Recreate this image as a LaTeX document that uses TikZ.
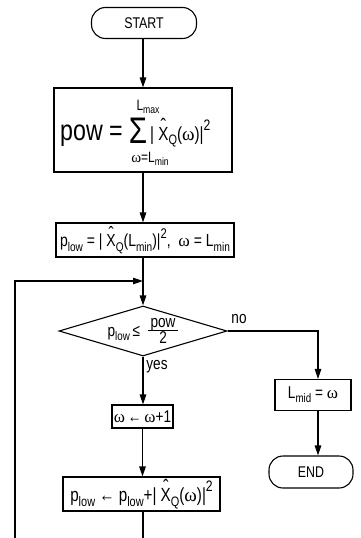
\documentclass[tikz,border=0pt]{standalone}
\usepackage{fontspec}
\usepackage{graphicx}
\setmainfont[FakeStretch=0.8]{Liberation Sans}
\newfontfamily\omfont{Liberation Serif}
\usetikzlibrary{arrows.meta,shapes.geometric}

% omega in a serif face, sub/superscripts, X with a hat
\newcommand\om{{\omfont ω}}
\newcommand\sbs[1]{\raisebox{-0.45ex}{\scalebox{0.72}{#1}}}
\newcommand\sps[1]{\raisebox{0.95ex}{\scalebox{0.8}{#1}}}
\newcommand\Xh{\begingroup\setbox0\hbox{X}\hbox to\wd0{\hss\raisebox{0.36em}{\scalebox{1.1}{ˆ}}\hss}\kern-\wd0\box0\endgroup}
\newcommand\fs[1]{\fontsize{#1}{#1}\selectfont}

\tikzset{
  every node/.style={font=\fs{17}, inner sep=0pt},
  box/.style={draw, rectangle, line width=1.1pt},
  term/.style={draw, rectangle, rounded corners=14pt, line width=1.1pt},
  dec/.style={draw, diamond, line width=1.1pt},
  arr/.style={-{Triangle[length=10pt,width=6.5pt]}},
  flow/.style={line width=1.1pt}
}

\begin{document}
\begin{tikzpicture}[x=1pt,y=-1pt]
\useasboundingbox (0,0) rectangle (361,538);

% start
\node[term, minimum width=105pt, minimum height=31pt, font=\fs{15.5}] (start) at (144,23) {START};

% total power
\node[box, minimum width=178pt, minimum height=84pt] (pow) at (143,130) {};
\node[anchor=base east, font=\fs{29}] (powlhs) at (123,140) {pow =};
\node[anchor=base, font=\fs{37}] (sigma) at (138,143) {Σ};
\node[font=\fs{15}] (sumtop) at (148,107) {L\sbs{max}};
\node[font=\fs{15}] (sumbot) at (150,159) {\om=L\sbs{min}};
\node[anchor=base west, font=\fs{19}] (powrhs) at (150,140) {| \Xh\sbs{Q}(\om)|\sps{2}};

% initialisation
\node[box, minimum width=178pt, minimum height=34pt] (init) at (145,240)
  {\fs{17.5}p\sbs{low} = | \Xh\sbs{Q}(L\sbs{min})|\sps{2},\ \ \om\ = L\sbs{min}};
\coordinate (merge) at (143,281);

% decision
\node[dec, minimum width=168pt, minimum height=50pt] (test) at (143,331) {};
\node (testtxt) at (143,332)
  {p\sbs{low}\,≤\ \ \begin{tabular}{@{}c@{}}\,pow\,\\[-3pt]\hline\rule{0pt}{13pt}2\end{tabular}};
\node (no) at (239,319) {no};
\node (yes) at (157,367) {yes};

% result branch
\node[box, minimum width=76pt, minimum height=31pt] (lmid) at (313,395) {L\sbs{mid} = \om};
\node[term, minimum width=84pt, minimum height=32pt, font=\fs{15.5}] (end) at (311,472) {END};

% loop body
\node[box, minimum width=61pt, minimum height=23pt, font=\fs{17}] (inc) at (142.5,416.5) {\om\,←\,\om+1};
\node[box, minimum width=157pt, minimum height=34pt, font=\fs{19}] (acc) at (141.5,494)
  {p\sbs{low} ← p\sbs{low}+| \Xh\sbs{Q}(\om)|\sps{2}};

\coordinate (loopbot) at (15,538);
\coordinate (accbot) at (143,538);

% connectors
\draw[flow,arr] (start.south -| pow.north) -- (pow.north);
\draw[flow,arr] (pow.south) -- (pow.south |- init.north);
\draw[flow,arr] (init.south -| merge) -- (test.north);
\draw[flow,arr] (loopbot) |- (merge);
\draw[flow,arr] (test.east) -| ([xshift=5pt]lmid.north);
\draw[flow,arr] ([xshift=5pt]lmid.south) -- ([xshift=5pt]lmid.south |- end.north);
\draw[flow,arr] (test.south) -- (test.south |- inc.north);
\draw[flow,arr] (inc.south) -- (inc.south |- acc.north);
\draw[flow] (acc.south -| accbot) -- (accbot);
\end{tikzpicture}
\end{document}
